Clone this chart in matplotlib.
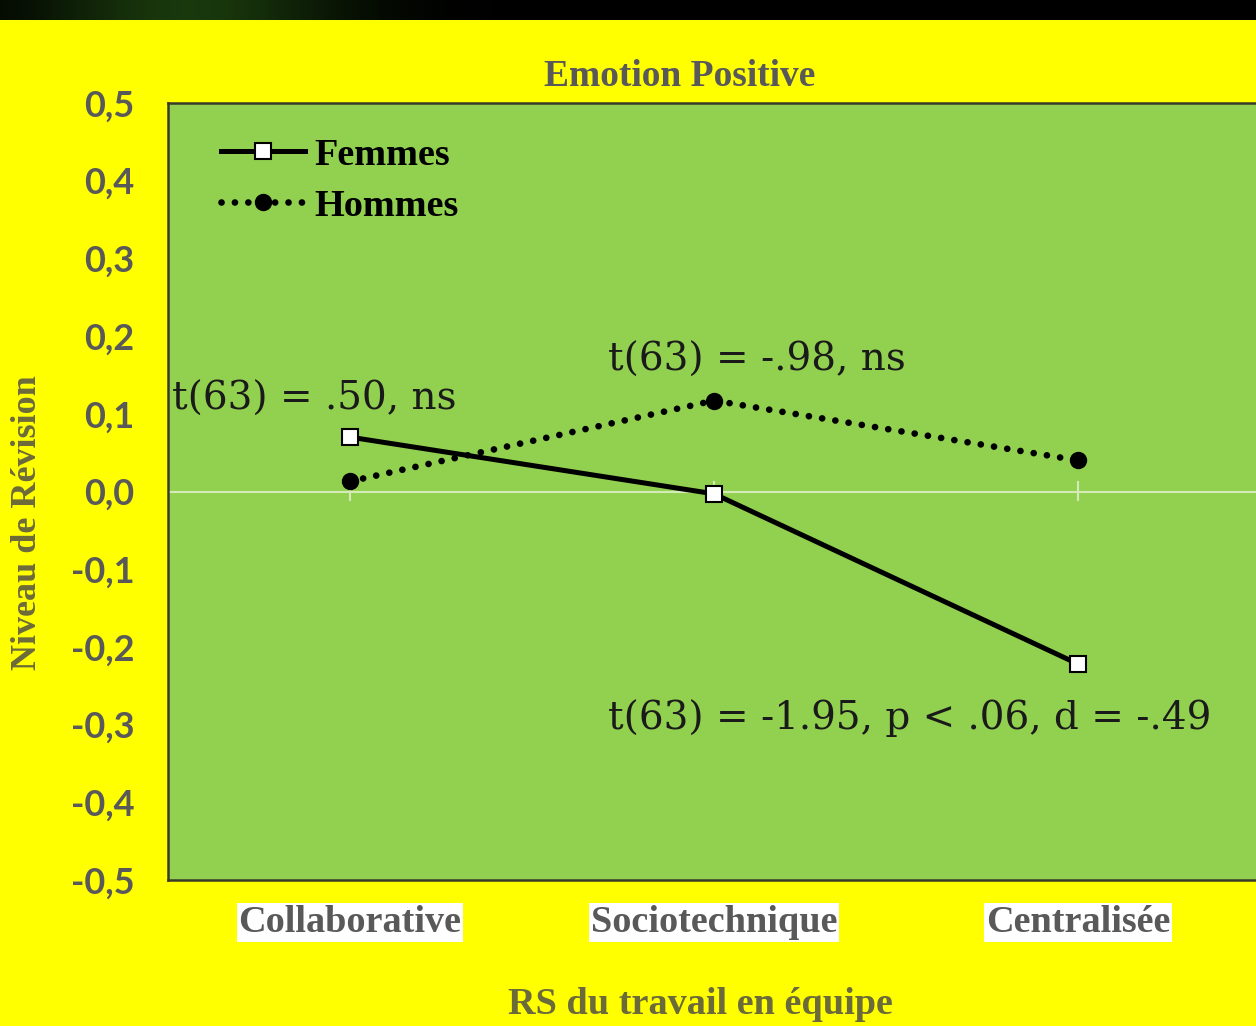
import matplotlib
matplotlib.use("Agg")
import matplotlib.pyplot as plt
import numpy as np

categories = ["Collaborative", "Sociotechnique", "Centralisée"]
femmes = [0.070, -0.003, -0.222]
hommes = [0.013, 0.117, 0.040]
yticks = [-0.5, -0.4, -0.3, -0.2, -0.1, 0.0, 0.1, 0.2, 0.3, 0.4, 0.5]
ytick_labels = ["-0,5", "-0,4", "-0,3", "-0,2", "-0,1", "0,0", "0,1", "0,2", "0,3", "0,4", "0,5"]
annotations = [
    ("t(63) = .50, ns", -0.489, 0.118),
    ("t(63) = -.98, ns", 0.709, 0.169),
    ("t(63) = -1.95, p < .06, d = -.49", 0.709, -0.291),
]

W, H = 1256, 1026
fig = plt.figure(figsize=(W / 100, H / 100), dpi=100)
fig.patch.set_facecolor("#FFFF00")

# top dark band
band = fig.add_axes([0, 1 - 20 / H, 1, 20 / H])
grad = np.linspace(0, 1, 400)
glow = np.exp(-((grad - 0.15) / 0.12) ** 2)
img = np.zeros((1, 400, 3))
img[0, :, 0] = 0.10 * glow
img[0, :, 1] = 0.22 * glow
img[0, :, 2] = 0.05 * glow
band.imshow(img, aspect="auto", extent=[0, 1, 0, 1])
band.set_axis_off()

ax = fig.add_axes([168 / W, 146 / H, 1092 / W, 777 / H])
ax.set_facecolor("#92D050")
x = np.arange(len(categories))

ax.axhline(0, color="#d4ebb8", lw=1.5, zorder=1)

ax.plot(x, femmes, color="black", lw=3.6, marker="s", markersize=11,
        markerfacecolor="white", markeredgecolor="black", markeredgewidth=1.5,
        label="Femmes", zorder=4)
ax.plot(x, hommes, color="black", lw=4.8, linestyle=(0, (0.01, 2.0)),
        dash_capstyle="round", marker="o", markersize=11.5,
        markerfacecolor="black", markeredgecolor="black",
        label="Hommes", zorder=4)

ax.set_xlim(-0.5, 2.5)
ax.set_ylim(-0.5, 0.5)

# tick marks on the zero axis
sec = ax.secondary_xaxis(0.5)
for sp in sec.spines.values():
    sp.set_visible(False)
sec.set_xticks(x)
sec.set_xticklabels([])
sec.tick_params(axis="x", which="both", direction="inout", length=14, width=1.5,
                color="#d4ebb8", labeltop=False, labelbottom=False)

ax.set_yticks(yticks)
ax.set_yticklabels(ytick_labels, fontfamily="Lato", fontweight="bold",
                   fontsize=26, color="#595959")
ax.tick_params(axis="y", length=0, pad=24)
ax.set_xticks(x)
ax.set_xticklabels(categories, fontfamily="Liberation Serif", fontweight="bold",
                   fontsize=27.5, color="#595959")
ax.tick_params(axis="x", length=0, pad=18)
for lbl in ax.get_xticklabels():
    lbl.set_bbox(dict(facecolor="white", edgecolor="none", pad=1.5))

for side in ["left", "top", "bottom"]:
    ax.spines[side].set_color("#3a3a2a")
    ax.spines[side].set_linewidth(1.8)
ax.spines["right"].set_visible(False)

ax.set_title("Emotion Positive", fontfamily="Liberation Serif", fontweight="bold",
             fontsize=27, color="#595959", pad=12, x=(680 - 168) / 1092)
ax.set_xlabel("RS du travail en équipe", fontfamily="Liberation Serif",
              fontweight="bold", fontsize=27.5, color="#6b6a3a")
ax.xaxis.set_label_coords((700 - 168) / 1092, -(1005 - 880) / 777)
ax.xaxis.label.set_va("center")
ax.set_ylabel("Niveau de Révision", fontfamily="Liberation Serif",
              fontweight="bold", fontsize=26, color="#6b6a3a")
ax.yaxis.set_label_coords(-(168 - 28) / 1092, (880 - 523) / 777)
ax.yaxis.label.set_va("center")

leg = ax.legend(loc="upper left", bbox_to_anchor=(0.031, 0.980), frameon=False,
                prop={"family": "Liberation Serif", "weight": "bold", "size": 27.5},
                handlelength=2.2, handletextpad=0.25, labelspacing=0.42,
                borderpad=0, numpoints=1)
for t in leg.get_texts():
    t.set_color("black")

for txt, ax_x, ax_y in annotations:
    ax.text(ax_x, ax_y, txt, ha="left", va="center", fontfamily="DejaVu Serif",
            fontsize=28, color="#1a1a1a", zorder=5)

fig.savefig("out.png", dpi=100, facecolor=fig.get_facecolor())
